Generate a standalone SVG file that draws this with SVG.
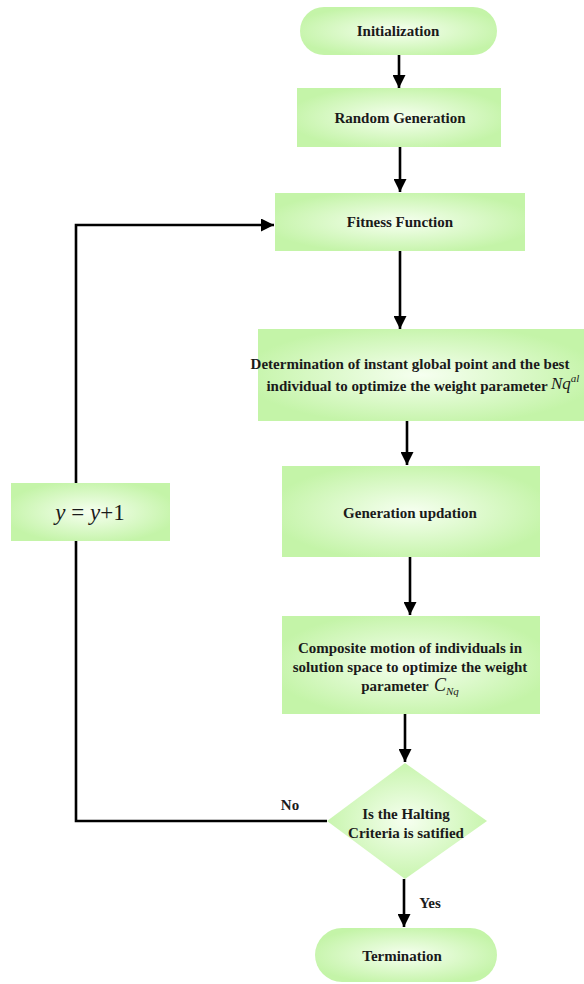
<svg xmlns="http://www.w3.org/2000/svg" width="584" height="984" viewBox="0 0 584 984">
<style>
.t{font-family:'Liberation Serif','Tinos','Times New Roman','DejaVu Serif',serif;font-weight:bold;font-size:15px;fill:#1a1a1a;text-anchor:middle}
.m{font-family:'Liberation Serif','Tinos','Times New Roman','DejaVu Serif',serif;font-style:italic;fill:#1a1a1a}
.c{stroke:#000;stroke-width:2.6;fill:none}
.s{fill:url(#g);stroke:none}
</style>
<defs>
<radialGradient id="g" cx="50%" cy="50%" r="55%">
<stop offset="0" stop-color="#f6fff0"/>
<stop offset="1" stop-color="#c4f4a8"/>
</radialGradient>
<marker id="a" viewBox="0 0 10 10" refX="10" refY="5" markerWidth="5" markerHeight="5" markerUnits="strokeWidth" orient="auto">
<path d="M0,0 L10,5 L0,10 z" fill="#000"/>
</marker>
</defs>
<rect width="584" height="984" fill="#fff"/>
<g id="connectors">
<line class="c" x1="399" y1="55" x2="399" y2="88" marker-end="url(#a)"/>
<line class="c" x1="400" y1="147" x2="400" y2="192" marker-end="url(#a)"/>
<line class="c" x1="400" y1="251" x2="400" y2="329" marker-end="url(#a)"/>
<line class="c" x1="407" y1="421" x2="407" y2="465" marker-end="url(#a)"/>
<line class="c" x1="410" y1="557" x2="410" y2="615" marker-end="url(#a)"/>
<line class="c" x1="405" y1="714" x2="405" y2="762" marker-end="url(#a)"/>
<line class="c" x1="404" y1="879" x2="404" y2="927" marker-end="url(#a)"/>
<polyline class="c" points="327,821 76,821 76,225 274,225" marker-end="url(#a)"/>
</g>
<g id="init">
<rect class="s" x="300" y="7" width="197" height="48" rx="24"/>
<text class="t" x="398" y="36">Initialization</text>
</g>
<g id="random">
<rect class="s" x="297" y="88" width="204" height="59"/>
<text class="t" x="400" y="123">Random Generation</text>
</g>
<g id="fitness">
<rect class="s" x="275" y="193" width="250" height="58"/>
<text class="t" x="400" y="227">Fitness Function</text>
</g>
<g id="determination">
<rect class="s" x="258" y="329" width="326" height="92"/>
<text class="t" x="410" y="369">Determination of instant global point and the best</text>
<text class="t" x="407" y="391">individual to optimize the weight parameter</text>
<text class="m" x="551" y="389" font-size="17">Nq<tspan font-size="11" dy="-7">al</tspan></text>
</g>
<g id="update">
<rect class="s" x="282" y="466" width="258" height="91"/>
<text class="t" x="410" y="518">Generation updation</text>
</g>
<g id="composite">
<rect class="s" x="282" y="616" width="258" height="98"/>
<text class="t" x="410" y="653">Composite motion of individuals in</text>
<text class="t" x="410" y="672">solution space to optimize the weight</text>
<text class="t" x="395" y="691">parameter</text>
<text class="m" x="434" y="691" font-size="18">C<tspan font-size="11" dy="4">Nq</tspan></text>
</g>
<g id="increment">
<rect class="s" x="11" y="483" width="159" height="58"/>
<text class="m" x="90" y="520" font-size="23" text-anchor="middle">y <tspan font-style="normal">=</tspan> y<tspan font-style="normal">+1</tspan></text>
</g>
<g id="decision">
<polygon class="s" points="405,763 487,821 405,879 327,821"/>
<text class="t" x="406" y="819">Is the Halting</text>
<text class="t" x="406" y="838">Criteria is satified</text>
</g>
<g id="labels">
<text class="t" x="290" y="810">No</text>
<text class="t" x="430" y="908">Yes</text>
</g>
<g id="term">
<rect class="s" x="315" y="928" width="182" height="54" rx="27"/>
<text class="t" x="402" y="961">Termination</text>
</g>
</svg>
